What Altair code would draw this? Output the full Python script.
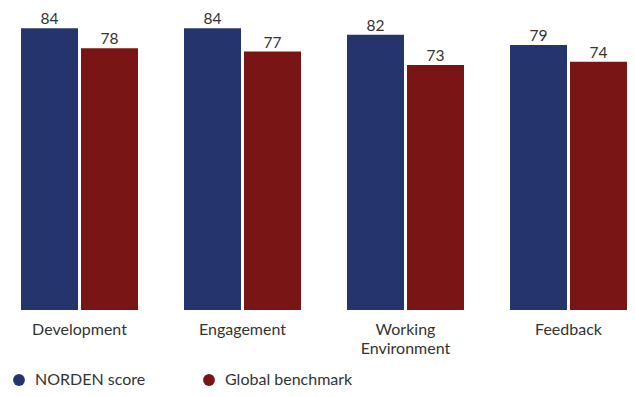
import altair as alt
import pandas as pd

categories = ["Development", "Engagement", "Working Environment", "Feedback"]
series = ["NORDEN score", "Global benchmark"]
norden = [84, 84, 82, 79]
benchmark = [78, 77, 73, 74]
colors = ["#26346E", "#7A1515"]

rows = []
for c, a, b in zip(categories, norden, benchmark):
    rows.append({"category": c, "series": series[0], "value": a})
    rows.append({"category": c, "series": series[1], "value": b})
df = pd.DataFrame(rows)

FONT = "Lato"
TXT = "#333333"

x = alt.X(
    "category:N",
    sort=categories,
    title=None,
    scale=alt.Scale(paddingInner=0.2822, paddingOuter=0.0399, align=1),
    axis=alt.Axis(
        domain=False, ticks=False, labelFontSize=16, labelColor=TXT,
        labelFont=FONT, labelPadding=11, labelAngle=0, labelLineHeight=19,
        labelExpr="datum.label == 'Working Environment' ? ['Working', 'Environment'] : datum.label",
    ),
)
xo = alt.XOffset("series:N", sort=series,
                 scale=alt.Scale(paddingInner=0.05, paddingOuter=0))
y = alt.Y("value:Q", scale=alt.Scale(domain=[0, 90]), axis=None)

bars = alt.Chart(df).mark_bar().encode(
    x=x, xOffset=xo, y=y,
    color=alt.Color(
        "series:N", sort=series,
        scale=alt.Scale(domain=series, range=colors),
        legend=alt.Legend(
            title=None, orient="none", legendX=3, legendY=364,
            direction="horizontal", symbolType="circle", symbolSize=140,
            symbolStrokeWidth=0, labelFontSize=16, labelFont=FONT,
            labelColor=TXT, labelOffset=8, columnPadding=55,
        ),
    ),
)
labels = alt.Chart(df).mark_text(
    baseline="alphabetic", dy=-4, fontSize=15.5, font=FONT, color=TXT
).encode(x=x, xOffset=xo, y=y, text="value:Q")

chart = (bars + labels).properties(
    width=619, height=302,
    autosize=alt.AutoSizeParams(type="none"),
    padding={"left": 0, "top": 0, "right": 0, "bottom": 79},
).configure_view(stroke=None)

chart.save("out.html", embed_options={"renderer": "svg", "actions": False})
